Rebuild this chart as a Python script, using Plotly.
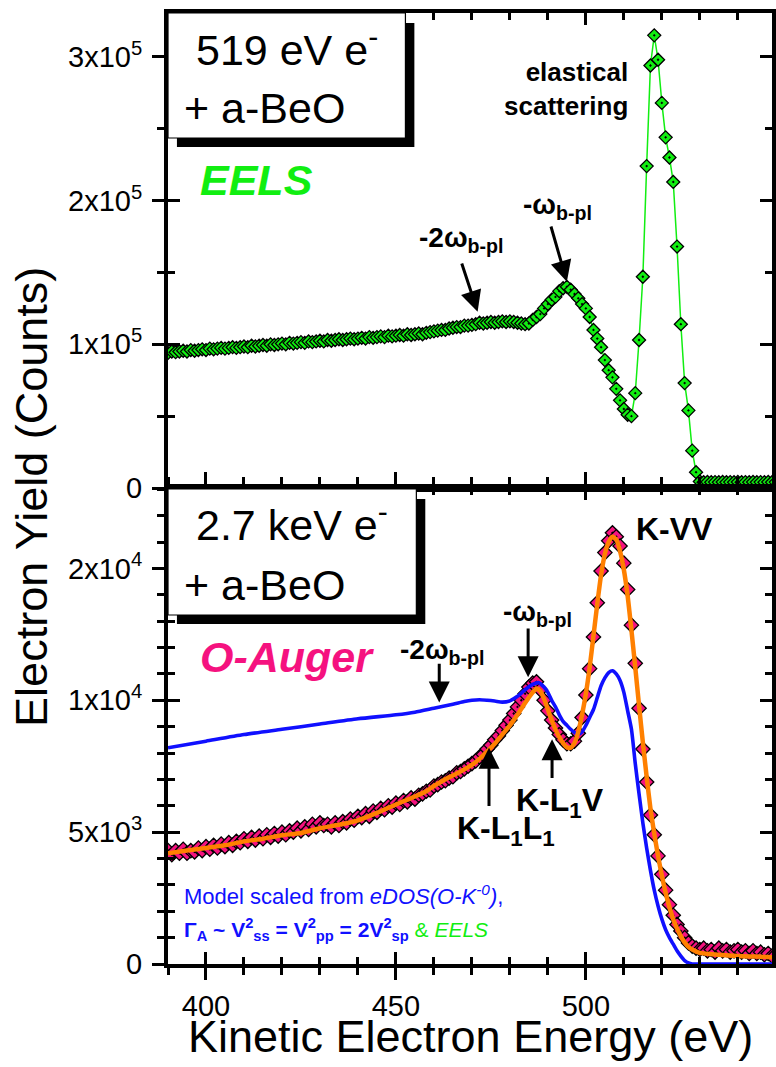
import plotly.graph_objects as go

# ---------------- data ----------------
# Top panel: EELS, 519 eV electrons (counts)
eels_E = list(range(390, 551))
eels_C_1e5 = [
    0.94, 0.95, 0.945, 0.95, 0.955, 0.95, 0.96, 0.955, 0.96, 0.965,
    0.96, 0.97, 0.965, 0.97, 0.975, 0.97, 0.975, 0.98, 0.975, 0.98,
    0.985, 0.98, 0.99, 0.985, 0.99, 0.995, 0.99, 1.0, 0.995, 1.0,
    1.005, 1.0, 1.01, 1.005, 1.01, 1.015, 1.01, 1.02, 1.015, 1.02,
    1.025, 1.02, 1.03, 1.025, 1.03, 1.035, 1.03, 1.035, 1.04, 1.035,
    1.04, 1.045, 1.04, 1.05, 1.045, 1.05, 1.055, 1.05, 1.06, 1.055,
    1.06, 1.065, 1.06, 1.07, 1.065, 1.07, 1.075, 1.07, 1.08, 1.085,
    1.09, 1.095, 1.10, 1.10, 1.11, 1.115, 1.12, 1.12, 1.13, 1.13,
    1.135, 1.14, 1.15, 1.145, 1.15, 1.155, 1.15, 1.155, 1.16, 1.155,
    1.16, 1.155, 1.15, 1.145, 1.14, 1.145, 1.17, 1.19, 1.21, 1.25,
    1.28, 1.31, 1.33, 1.37, 1.39, 1.40, 1.38, 1.35, 1.32, 1.28,
    1.25, 1.19, 1.10, 1.04, 0.98, 0.89, 0.82, 0.77, 0.69, 0.61,
    0.55, 0.51, 0.50, 0.66, 1.03, 1.47, 2.24, 2.94, 3.15, 2.98,
    2.68, 2.44, 2.30, 2.13, 1.68, 1.14, 0.73, 0.54, 0.26, 0.11,
    0.045, 0.04, 0.042, 0.04, 0.041, 0.04, 0.042, 0.04, 0.041, 0.04,
    0.042, 0.04, 0.041, 0.04, 0.042, 0.04, 0.041, 0.04, 0.042, 0.04, 0.041,
]
eels_C = [v * 1e5 for v in eels_C_1e5]

# Bottom panel: O-Auger, 2.7 keV electrons (counts)
auger_E = list(range(390, 551))
auger_C_1e3 = [
    4.30, 4.15, 4.30, 4.20, 4.35, 4.20, 4.30, 4.25, 4.40, 4.30,
    4.45, 4.35, 4.50, 4.40, 4.55, 4.45, 4.60, 4.50, 4.65, 4.60,
    4.75, 4.65, 4.80, 4.70, 4.85, 4.75, 4.90, 4.80, 4.95, 4.85,
    5.00, 4.90, 5.05, 5.00, 5.15, 5.05, 5.20, 5.10, 5.30, 5.20,
    5.35, 5.25, 5.30, 5.20, 5.35, 5.25, 5.40, 5.35, 5.50, 5.45,
    5.60, 5.55, 5.70, 5.60, 5.80, 5.75, 5.90, 5.85, 6.00, 5.95,
    6.10, 6.05, 6.20, 6.15, 6.30, 6.25, 6.40, 6.45, 6.55, 6.60,
    6.75, 6.80, 6.90, 6.95, 7.05, 7.10, 7.25, 7.30, 7.40, 7.50,
    7.60, 7.70, 7.85, 7.95, 8.15, 8.30, 8.50, 8.65, 8.85, 9.05,
    9.25, 9.50, 9.75, 10.00, 10.25, 10.50, 10.65, 10.70, 10.40, 10.00,
    9.60, 9.25, 8.95, 8.70, 8.50, 8.35, 8.35, 8.45, 8.75, 9.35,
    10.20, 11.20, 12.40, 13.70, 14.90, 15.60, 16.05, 16.35, 16.20, 15.85,
    15.20, 14.20, 12.85, 11.40, 9.70, 8.15, 6.90, 5.65, 4.90, 4.10,
    3.40, 2.80, 2.25, 1.85, 1.50, 1.25, 1.00, 0.80, 0.68, 0.60,
    0.55, 0.60, 0.50, 0.55, 0.45, 0.60, 0.50, 0.55, 0.45, 0.50,
    0.55, 0.45, 0.50, 0.40, 0.50, 0.40, 0.45, 0.35, 0.40, 0.30, 0.35,
]
auger_C = [v * 1e3 for v in auger_C_1e3]

# Smoothed fit (orange)
fit_E = [390, 395, 400, 405, 410, 415, 420, 425, 430, 435, 440, 445, 450, 455,
         458, 460, 462, 464, 466, 468, 470, 472, 474, 476, 478, 480, 482, 484, 486,
         487, 488, 489, 490, 491, 492, 493, 494, 495, 496, 497, 498, 499, 500, 501,
         502, 503, 504, 505, 506, 507, 508, 509, 510, 511, 512, 513, 514, 515, 516,
         517, 518, 519, 520, 521, 522, 523, 524, 525, 526, 527, 528,
         530, 535, 540, 545, 550]
fit_C_1e3 = [4.20, 4.30, 4.40, 4.50, 4.65, 4.75, 4.88, 4.97, 5.15, 5.28, 5.45, 5.73, 6.05, 6.35,
             6.55, 6.75, 6.92, 7.08, 7.22, 7.38, 7.55, 7.78, 8.05, 8.35, 8.70, 9.05, 9.45, 9.90, 10.30,
             10.45, 10.35, 10.05, 9.65, 9.25, 8.90, 8.60, 8.38, 8.22, 8.20, 8.38, 8.80, 9.45, 10.25, 11.25,
             12.45, 13.65, 14.75, 15.55, 16.00, 16.20, 16.10, 15.65, 14.95, 13.95, 12.65, 11.25, 9.80, 8.40, 7.10,
             5.90, 4.95, 4.10, 3.35, 2.70, 2.15, 1.70, 1.35, 1.05, 0.82, 0.65, 0.55,
             0.42, 0.35, 0.30, 0.28, 0.25]
fit_C = [v * 1e3 for v in fit_C_1e3]

# Model scaled from eDOS (blue)
model_E = [390, 400, 410, 420, 430, 440, 450, 455, 460, 465, 468, 470, 472, 474, 476, 478,
           480, 482, 484, 486, 487.5, 489, 490, 491, 492, 493, 494, 495, 496, 497, 498, 499,
           500, 501, 502, 503, 504, 505, 506, 507, 508, 509, 510, 511, 512, 513, 514, 515,
           516, 517, 518, 519, 520, 521, 522, 523, 524, 525, 526, 527, 528, 530, 540, 550]
model_C_1e3 = [8.20, 8.45, 8.70, 8.90, 9.10, 9.30, 9.45, 9.55, 9.70, 9.85, 9.95, 10.00, 10.02, 10.00, 9.97, 9.93,
               9.98, 10.15, 10.40, 10.60, 10.67, 10.50, 10.30, 10.00, 9.75, 9.45, 9.20, 9.05, 8.90, 8.78, 8.72, 8.80,
               9.05, 9.35, 9.65, 10.10, 10.55, 10.85, 11.05, 11.12, 11.00, 10.75, 10.30, 9.60, 8.90, 7.60, 6.45, 5.35,
               4.40, 3.55, 2.80, 2.20, 1.70, 1.30, 1.00, 0.75, 0.50, 0.30, 0.13, 0.04, 0.0, 0.0, 0.0, 0.0]
model_C = [v * 1e3 for v in model_C_1e3]

# Tick labels
top_tickvals = [0, 1e5, 2e5, 3e5]
top_ticktext = ["0", "1x10<sup>5</sup>", "2x10<sup>5</sup>", "3x10<sup>5</sup>"]
bot_tickvals = [0, 5000, 10000, 15000]
bot_ticktext = ["0", "5x10<sup>3</sup>", "1x10<sup>4</sup>", "2x10<sup>4</sup>"]

# ---------------- layout geometry ----------------
W, H = 776, 1067
ML, MR, MT, MB = 168, 0, 13, 103
PW, PH = W - ML - MR, H - MT - MB
Y0PX = H - MB  # pixel y of paper 0


def px(x):
    return (x - ML) / PW


def py(y):
    return (Y0PX - y) / PH


split = py(488)
XR = [390, 390 + PW / 3.824]
TOP_R = [0, 3.3055e5]
BOT_R = [0, 18050]

FONT = "Liberation Sans, Arial, sans-serif"
GREEN = "#11ee11"
PINK = "#f5127f"
ORANGE = "#ff8000"
BLUE = "#1010ff"

fig = go.Figure()

# EELS
fig.add_trace(go.Scatter(
    x=eels_E, y=eels_C, mode="lines+markers", xaxis="x", yaxis="y",
    line=dict(color=GREEN, width=1.5),
    marker=dict(symbol="diamond-dot", size=10, color=GREEN,
                line=dict(color="black", width=1.3)),
    showlegend=False, hoverinfo="skip"))

# Auger data
fig.add_trace(go.Scatter(
    x=auger_E, y=auger_C, mode="markers", xaxis="x2", yaxis="y2",
    marker=dict(symbol="diamond-dot", size=11, color=PINK,
                line=dict(color="black", width=1.3)),
    showlegend=False, hoverinfo="skip"))
# Model
fig.add_trace(go.Scatter(
    x=model_E, y=model_C, mode="lines", xaxis="x2", yaxis="y2",
    line=dict(color=BLUE, width=3.6, shape="spline", smoothing=0.6),
    showlegend=False, hoverinfo="skip"))
# Fit
fig.add_trace(go.Scatter(
    x=fit_E, y=fit_C, mode="lines", xaxis="x2", yaxis="y2",
    line=dict(color=ORANGE, width=4.5, shape="spline", smoothing=0.6),
    showlegend=False, hoverinfo="skip"))

# dummy traces for overlay tick axes
fig.add_trace(go.Scatter(x=[None], y=[None], xaxis="x3", yaxis="y3", showlegend=False))
fig.add_trace(go.Scatter(x=[None], y=[None], xaxis="x4", yaxis="y4", showlegend=False))

AX = dict(showline=True, linewidth=4, linecolor="black", showgrid=False,
          zeroline=False, fixedrange=True, tickcolor="black", tickwidth=3)
TICKFONT = dict(family=FONT, size=29, color="black")

top_minor = [v * 5e4 for v in (1, 3, 5)]
bot_minor = [v * 1000 for v in range(1, 19) if v % 5 != 0]

fig.update_layout(
    width=W, height=H, margin=dict(l=ML, r=MR, t=MT, b=MB),
    paper_bgcolor="white", plot_bgcolor="white",
    xaxis=dict(AX, domain=[0, 1], anchor="y", range=XR, ticks="",
               showticklabels=False),
    yaxis=dict(AX, domain=[split, 1], anchor="x", range=TOP_R,
               tickmode="array", tickvals=top_tickvals, ticktext=top_ticktext,
               ticks="outside", ticklen=12, tickfont=TICKFONT, ticklabelstandoff=4,
               minor=dict(tickmode="array", tickvals=top_minor, ticks="outside",
                          ticklen=7, tickwidth=3, tickcolor="black")),
    xaxis3=dict(AX, overlaying="x", anchor="y3", range=XR, side="bottom",
                tickmode="linear", tick0=400, dtick=50, ticks="inside", ticklen=12,
                showticklabels=False, mirror="allticks",
                minor=dict(dtick=10, ticks="inside", ticklen=7, tickwidth=3,
                           tickcolor="black")),
    yaxis3=dict(AX, overlaying="y", anchor="x3", range=TOP_R, side="left",
                tickmode="array", tickvals=top_tickvals, ticks="inside", ticklen=12,
                showticklabels=False, mirror="allticks",
                minor=dict(tickmode="array", tickvals=top_minor, ticks="inside",
                           ticklen=7, tickwidth=3, tickcolor="black")),
    xaxis2=dict(AX, domain=[0, 1], anchor="y2", range=XR,
                tickmode="linear", tick0=400, dtick=50, ticks="outside", ticklen=12,
                tickfont=TICKFONT, ticklabelstandoff=1, mirror="allticks",
                minor=dict(dtick=10, ticks="outside", ticklen=7, tickwidth=3,
                           tickcolor="black")),
    yaxis2=dict(AX, domain=[0, split], anchor="x2", range=BOT_R,
                tickmode="array", tickvals=bot_tickvals, ticktext=bot_ticktext,
                ticks="outside", ticklen=12, tickfont=TICKFONT, ticklabelstandoff=4,
                minor=dict(tickmode="array", tickvals=bot_minor, ticks="outside",
                           ticklen=7, tickwidth=3, tickcolor="black")),
    xaxis4=dict(AX, overlaying="x2", anchor="y4", range=XR, side="bottom",
                tickmode="linear", tick0=400, dtick=50, ticks="inside", ticklen=12,
                showticklabels=False, mirror="allticks",
                minor=dict(dtick=10, ticks="inside", ticklen=7, tickwidth=3,
                           tickcolor="black")),
    yaxis4=dict(AX, overlaying="y2", anchor="x4", range=BOT_R, side="left",
                tickmode="array", tickvals=bot_tickvals, ticks="inside", ticklen=12,
                showticklabels=False, mirror="allticks",
                minor=dict(tickmode="array", tickvals=bot_minor, ticks="inside",
                           ticklen=7, tickwidth=3, tickcolor="black")),
)

# ---------------- boxes with shadow ----------------
shapes = []
for (bx0, by0, bx1, by1) in [(168, 13, 407, 138), (168, 489, 418, 615)]:
    shapes.append(dict(type="rect", xref="paper", yref="paper", layer="above",
                       x0=px(bx0 + 9), x1=px(bx1 + 9), y0=py(by1 + 9), y1=py(by0 + 10),
                       fillcolor="black", line=dict(width=0)))
    shapes.append(dict(type="rect", xref="paper", yref="paper", layer="above",
                       x0=px(bx0), x1=px(bx1), y0=py(by1), y1=py(by0),
                       fillcolor="white", line=dict(color="black", width=1.2)))
fig.update_layout(shapes=shapes)

# ---------------- annotations ----------------
ann = []


def txt(text, x, y, size, color="black", xanchor="left", yanchor="middle",
        align="left", angle=0):
    ann.append(dict(text=text, xref="paper", yref="paper", x=px(x), y=py(y),
                    xanchor=xanchor, yanchor=yanchor, align=align, textangle=angle,
                    showarrow=False, font=dict(family=FONT, size=size, color=color)))


def arrow(xr, yr, x_tip, y_tip, x_tail, y_tail):
    ann.append(dict(text="", xref=xr, yref=yr, axref=xr, ayref=yr,
                    x=x_tip, y=y_tip, ax=x_tail, ay=y_tail, showarrow=True,
                    arrowhead=2, arrowsize=1.4, arrowwidth=3, arrowcolor="black"))


txt("519 eV e<sup>-</sup>", 194, 47, 43)
txt("+ a-BeO", 182, 108, 43)
txt("<b><i>EELS</i></b>", 198, 180, 43, GREEN)
txt("<b>elastical<br>scattering</b>", 633, 89, 26, xanchor="right", align="right")
txt("<b>-2ω<sub>b-pl</sub></b>", 419, 240, 28)
txt("<b>-ω<sub>b-pl</sub></b>", 523, 207, 28)

txt("2.7 keV e<sup>-</sup>", 194, 522, 43)
txt("+ a-BeO", 182, 585, 43)
txt("<b><i>O-Auger</i></b>", 198, 657, 43, PINK)
txt("<b>-2ω<sub>b-pl</sub></b>", 400, 651, 28)
txt("<b>-ω<sub>b-pl</sub></b>", 503, 613, 28)
txt("<b>K-L<sub>1</sub>L<sub>1</sub></b>", 457, 830, 32)
txt("<b>K-L<sub>1</sub>V</b>", 516, 802, 32)
txt("<b>K-VV</b>", 637, 529, 32)

txt("Model scaled from <i>eDOS(O-K<sup>-0</sup>)</i>,", 182, 895, 22, BLUE)
txt("<b>Γ<sub>A</sub> ~ V<sup>2</sup><sub>ss</sub> = V<sup>2</sup><sub>pp</sub> = "
    "2V<sup>2</sup><sub>sp</sub></b> "
    "<span style='color:" + GREEN + "'>&amp; <i>EELS</i></span>", 182, 929, 21, BLUE)

txt("Kinetic Electron Energy (eV)", 472, 1036, 45, xanchor="center")
txt("Electron Yield (Counts)", 31, 497, 45, xanchor="center", angle=-90)

# arrows (tip, tail in data coordinates)
arrow("x", "y", 471.5, 1.227e5, 467.2, 1.573e5)
arrow("x", "y", 495.0, 1.436e5, 490.7, 1.830e5)
arrow("x2", "y2", 461.4, 9920, 461.4, 11440)
arrow("x2", "y2", 484.8, 10870, 484.8, 12780)
arrow("x2", "y2", 474.5, 8200, 474.5, 5930)
arrow("x2", "y2", 491.1, 8520, 491.1, 7000)

fig.update_layout(annotations=ann)

fig.write_html("out.html", config={"displayModeBar": False},
               post_script="document.body.style.margin='0';document.body.style.overflow='hidden';")
